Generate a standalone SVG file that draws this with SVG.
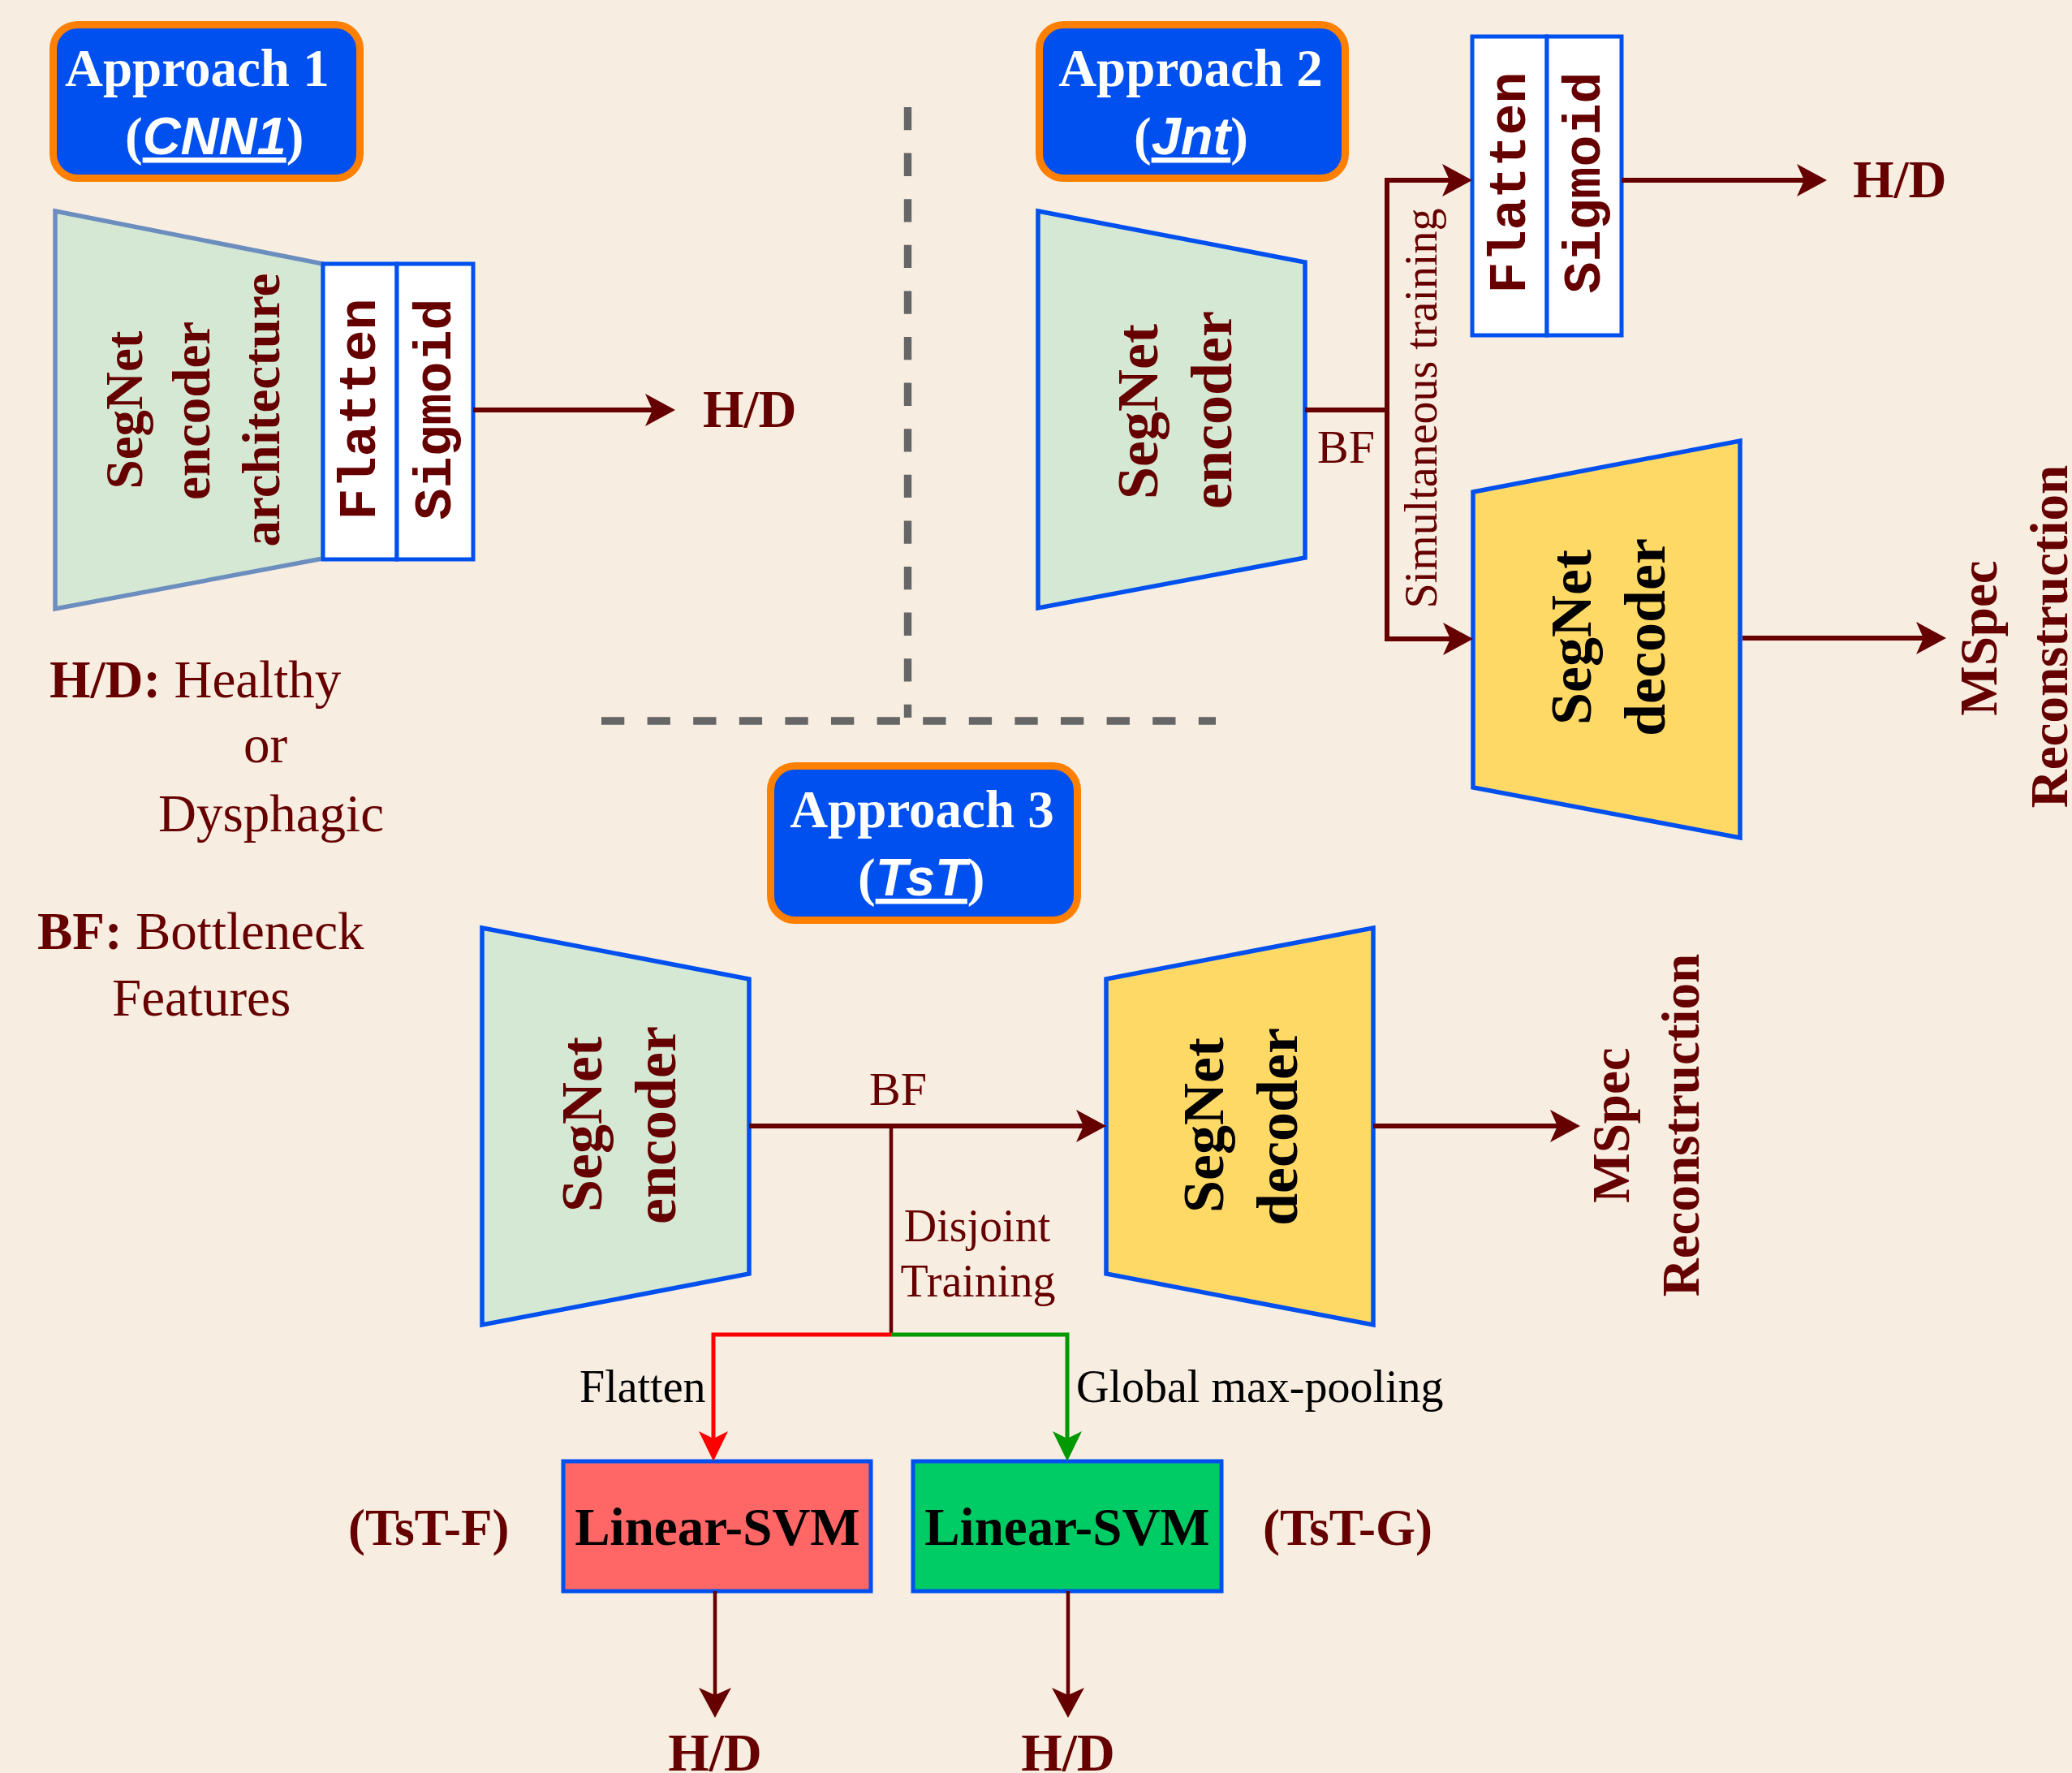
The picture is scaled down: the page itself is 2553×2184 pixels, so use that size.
<svg xmlns="http://www.w3.org/2000/svg" width="2553" height="2184" viewBox="0 0 2553 2184">
<style>
.bg{fill:#F7EDE1}
.appr{fill:#0050EF;stroke:#FF8000;stroke-width:9}
.at{font-family:"Liberation Serif","Times New Roman",serif;font-weight:bold;font-size:65px;fill:#FFFFFF}
.ai{font-family:"Liberation Sans",Arial,sans-serif;font-style:italic;font-weight:bold;text-decoration:underline}
.enc1{fill:#D5E8D4;stroke:#6C8EBF;stroke-width:5.5}
.enc{fill:#D5E8D4;stroke:#0050EF;stroke-width:5.5}
.dec{fill:#FFD966;stroke:#0050EF;stroke-width:5.5}
.box{fill:#FFFFFF;stroke:#0050EF;stroke-width:5}
.mono{font-family:"Liberation Mono","Courier New",monospace;font-weight:bold;font-size:65px;fill:#660000}
.bl{font-family:"Liberation Serif","Times New Roman",serif;font-weight:bold;fill:#660000}
.blk{font-family:"Liberation Serif","Times New Roman",serif;font-weight:bold;fill:#000000}
.rg{font-family:"Liberation Serif","Times New Roman",serif;fill:#660000}
.rgk{font-family:"Liberation Serif","Times New Roman",serif;fill:#000000;font-size:56px}
.c{text-anchor:middle}
.ln{fill:none;stroke:#660000;stroke-width:6}
.dash{fill:none;stroke:#666666;stroke-width:9.4;stroke-dasharray:28.3 28.3}
</style>
<defs>
<marker id="ah" markerUnits="userSpaceOnUse" markerWidth="40" markerHeight="42" viewBox="0 0 40 42" refX="11" refY="21" orient="auto"><path d="M0,1 L37,21 L0,41 L9,21 Z" fill="#660000"/></marker>
<marker id="ahr" markerUnits="userSpaceOnUse" markerWidth="40" markerHeight="42" viewBox="0 0 40 42" refX="11" refY="21" orient="auto"><path d="M0,3 L37,21 L0,39 L9,21 Z" fill="#FF0000"/></marker>
<marker id="ahg" markerUnits="userSpaceOnUse" markerWidth="40" markerHeight="42" viewBox="0 0 40 42" refX="11" refY="21" orient="auto"><path d="M0,3 L37,21 L0,39 L9,21 Z" fill="#009900"/></marker>
</defs>
<rect class="bg" x="0" y="0" width="2553" height="2184"/>

<g id="separators">
<line class="dash" x1="1118.5" y1="132" x2="1118.5" y2="884"/>
<line class="dash" x1="741" y1="888" x2="1498" y2="888"/>
</g>

<g id="approach1">
<rect class="appr" x="65.5" y="30.5" width="378" height="189" rx="30"/>
<text class="at" x="80" y="106">Approach 1</text>
<text class="at" x="154" y="190">(<tspan class="ai">CNN1</tspan>)</text>
</g>
<g id="approach2">
<rect class="appr" x="1280.5" y="30.5" width="377" height="189" rx="30"/>
<text class="at c" x="1467" y="106">Approach 2</text>
<text class="at" x="1397" y="190">(<tspan class="ai">Jnt</tspan>)</text>
</g>
<g id="approach3">
<rect class="appr" x="949.5" y="943.5" width="378" height="190" rx="30"/>
<text class="at c" x="1136" y="1019">Approach 3</text>
<text class="at" x="1057" y="1103">(<tspan class="ai">TsT</tspan>)</text>
</g>

<g id="a1-encoder">
<polygon class="enc1" points="68,260 398,325 398,688 68,750"/>
<text class="bl c" font-size="65" transform="translate(175,505) rotate(-90)">SegNet</text>
<text class="bl c" font-size="65" transform="translate(258,506) rotate(-90)">encoder</text>
<text class="bl c" font-size="65" transform="translate(344,505) rotate(-90)">architecture</text>
</g>
<g id="a1-flatten">
<rect class="box" x="398" y="325" width="91" height="364"/>
<text class="mono c" transform="translate(461.5,504) rotate(-90)">Flatten</text>
</g>
<g id="a1-sigmoid">
<rect class="box" x="489" y="325" width="94" height="364"/>
<text class="mono c" transform="translate(555,504) rotate(-90)">Sigmoid</text>
</g>
<g id="a1-hd">
<text class="bl" font-size="65" x="866" y="526">H/D</text>
</g>

<g id="legend">
<text class="rg" font-size="65" x="61" y="859"><tspan font-weight="bold">H/D:</tspan> Healthy</text>
<text class="rg" font-size="65" x="300" y="939">or</text>
<text class="rg" font-size="65" x="195" y="1024">Dysphagic</text>
<text class="rg" font-size="65" x="46" y="1169"><tspan font-weight="bold">BF:</tspan> Bottleneck</text>
<text class="rg" font-size="65" x="138" y="1251">Features</text>
</g>

<g id="a2-encoder">
<polygon class="enc" points="1279,260 1608,323 1608,687 1279,749"/>
<text class="bl c" font-size="72" transform="translate(1426,507) rotate(-90)">SegNet</text>
<text class="bl c" font-size="72" transform="translate(1517,505) rotate(-90)">encoder</text>
</g>
<g id="a2-flatten">
<rect class="box" x="1814" y="45" width="92" height="368"/>
<text class="mono c" transform="translate(1879,225) rotate(-90)">Flatten</text>
</g>
<g id="a2-sigmoid">
<rect class="box" x="1906" y="45" width="92" height="368"/>
<text class="mono c" transform="translate(1971,225) rotate(-90)">Sigmoid</text>
</g>
<g id="a2-hd">
<text class="bl" font-size="65" x="2283" y="243">H/D</text>
</g>
<g id="a2-decoder">
<polygon class="dec" points="1815,606 2144,543 2144,1032 1815,970"/>
<text class="blk c" font-size="72" transform="translate(1960,785) rotate(-90)">SegNet</text>
<text class="blk c" font-size="72" transform="translate(2051,785) rotate(-90)">decoder</text>
</g>
<g id="a2-mspec">
<text class="bl c" font-size="65" transform="translate(2460,786) rotate(-90)">MSpec</text>
<text class="bl c" font-size="65" transform="translate(2547,784) rotate(-90)">Reconstruction</text>
</g>

<g id="a3-encoder">
<polygon class="enc" points="594,1143 923,1206 923,1569 594,1632"/>
<text class="bl c" font-size="72" transform="translate(741,1385) rotate(-90)">SegNet</text>
<text class="bl c" font-size="72" transform="translate(832,1386) rotate(-90)">encoder</text>
</g>
<g id="a3-decoder">
<polygon class="dec" points="1363,1206 1692,1143 1692,1632 1363,1569"/>
<text class="blk c" font-size="72" transform="translate(1507,1386) rotate(-90)">SegNet</text>
<text class="blk c" font-size="72" transform="translate(1598,1388) rotate(-90)">decoder</text>
</g>
<g id="a3-mspec">
<text class="bl c" font-size="65" transform="translate(2007,1386) rotate(-90)">MSpec</text>
<text class="bl c" font-size="65" transform="translate(2093,1386) rotate(-90)">Reconstruction</text>
</g>
<g id="svm-f">
<rect x="694" y="1800" width="379" height="160" fill="#FF6666" stroke="#0050EF" stroke-width="5"/>
<text class="blk c" font-size="65" x="884" y="1903">Linear-SVM</text>
</g>
<g id="svm-g">
<rect x="1125" y="1800" width="380" height="160" fill="#00CC66" stroke="#0050EF" stroke-width="5"/>
<text class="blk c" font-size="65" x="1315" y="1903">Linear-SVM</text>
</g>
<g id="tst-labels">
<text class="bl" font-size="63" x="429" y="1903">(TsT-F)</text>
<text class="bl" font-size="63" x="1556" y="1903">(TsT-G)</text>
</g>
<g id="a3-hd">
<text class="bl c" font-size="65" x="881" y="2181">H/D</text>
<text class="bl c" font-size="65" x="1316" y="2181">H/D</text>
</g>

<g id="connectors">
<path class="ln" d="M583,505 H806" marker-end="url(#ah)"/>
<path class="ln" d="M1608,505 H1709 V222 H1788" marker-end="url(#ah)"/>
<path class="ln" d="M1709,505 V787 H1789" marker-end="url(#ah)"/>
<path class="ln" d="M1998,222 H2225" marker-end="url(#ah)"/>
<path class="ln" d="M2147,786 H2372" marker-end="url(#ah)"/>
<path class="ln" d="M923,1387 H1337" marker-end="url(#ah)"/>
<path class="ln" d="M1692,1387 H1921" marker-end="url(#ah)"/>
<path fill="none" stroke="#660000" stroke-width="4.5" d="M1098,1387 V1644"/>
<path fill="none" stroke="#FF0000" stroke-width="5" d="M1098,1644 H879 V1774" marker-end="url(#ahr)"/>
<path fill="none" stroke="#009900" stroke-width="5" d="M1098,1644 H1315 V1774" marker-end="url(#ahg)"/>
<path fill="none" stroke="#660000" stroke-width="4.5" d="M881,1960 V2090" marker-end="url(#ah)"/>
<path fill="none" stroke="#660000" stroke-width="4.5" d="M1316,1960 V2090" marker-end="url(#ah)"/>
</g>

<g id="edge-labels">
<text class="rg" font-size="58" x="1623" y="570">BF</text>
<text class="rg c" font-size="56" transform="translate(1770,503) rotate(-90)">Simultaneous training</text>
<text class="rg" font-size="58" x="1071" y="1361">BF</text>
<text class="rg c" font-size="56" x="1204" y="1529">Disjoint</text>
<text class="rg c" font-size="56" x="1205" y="1597">Training</text>
<text class="rgk" x="714" y="1727">Flatten</text>
<text class="rgk" x="1326" y="1727">Global max-pooling</text>
</g>
</svg>
